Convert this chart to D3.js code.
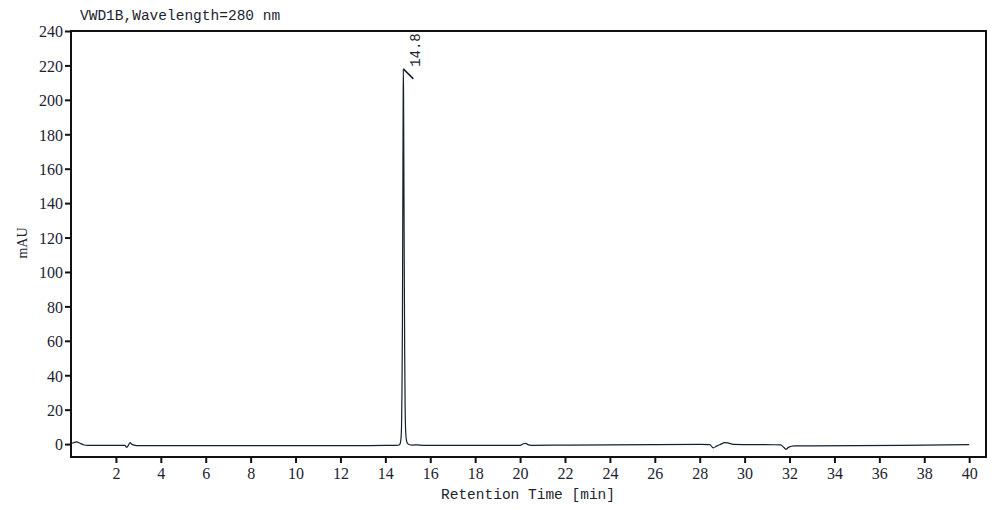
<!DOCTYPE html>
<html>
<head>
<meta charset="utf-8">
<script src="https://cdn.jsdelivr.net/npm/d3@7"></script>
<style>
  body { margin: 0; background: #fff; }
</style>
</head>
<body>
<div id="chart"></div>
<script>
// Trace: retention time (min) and signal (mAU)
const traceTime = [
    0.00, 0.12, 0.25, 0.40, 0.55, 0.75, 1.50, 2.40, 2.48, 2.56, 2.63, 2.72, 2.85, 2.95,
    4.0, 6.0, 8.0, 10.0, 12.0, 14.0, 14.50, 14.60, 14.65, 14.68, 14.70, 14.72, 14.74,
    14.76, 14.78, 14.79, 14.80, 14.81, 14.82, 14.84, 14.86, 14.88, 14.90, 14.93, 14.97,
    15.05, 15.20, 15.40, 15.50, 16.0, 18.0, 20.0, 20.15, 20.25, 20.35, 20.5, 22.0, 24.0,
    26.0, 28.0, 28.45, 28.60, 28.75, 28.95, 29.10, 29.25, 29.50, 30.0, 31.60, 31.75,
    31.85, 31.95, 32.2, 33.0, 35.0, 37.0, 39.0, 40.0
];
const traceSignal = [
    0.3, 0.8, 1.3, 0.5, -0.4, -0.8, -0.8, -0.8, -1.9, -0.6, 0.9, -0.2, -0.7, -0.9,
    -0.9, -0.9, -0.9, -0.9, -0.9, -0.8, -0.7, -0.5, 0.0, 1.5, 4, 10, 30,
    70, 150, 190, 218, 205, 175, 110, 55, 22, 9, 3, 0.8,
    -0.2, -0.6, -0.4, -0.6, -0.8, -0.8, -0.7, 0.2, 0.4, -0.3, -0.7, -0.6, -0.5,
    -0.3, -0.2, -0.3, -2.2, -1.2, 0.0, 0.9, 0.7, -0.2, -0.3, -0.4, -2.0,
    -3.0, -1.9, -1.0, -1.0, -0.9, -0.7, -0.4, -0.3
];

// Labelled peak
const peakTime = 14.8;
const peakHeight = 218;
const peakLabel = "14.8";

// Axis ticks
const xTicks = d3.range(2, 41, 2);
const yTicks = d3.range(0, 241, 20);

const title = "VWD1B,Wavelength=280 nm";
const xLabel = "Retention Time [min]";
const yLabel = "mAU";

// Dimensions
const W = 998, H = 509;
const margin = { top: 31, right: 12, bottom: 52, left: 71 };
const width = W - margin.left - margin.right;
const height = H - margin.top - margin.bottom;

const svg = d3.select("#chart")
    .append("svg")
    .attr("width", W)
    .attr("height", H);

const g = svg.append("g")
    .attr("transform", `translate(${margin.left},${margin.top})`);

// Scales
const xScale = d3.scaleLinear()
    .domain([0, 40.75])
    .range([0, width]);

const yScale = d3.scaleLinear()
    .domain([-7.5, 240])
    .range([height, 0]);

const textColor = "#1c2330";

// Bottom axis
const xAxis = g.append("g")
    .attr("transform", `translate(0,${height})`)
    .call(d3.axisBottom(xScale).tickValues(xTicks).tickSize(6).tickPadding(5));

// Left axis
const yAxis = g.append("g")
    .call(d3.axisLeft(yScale).tickValues(yTicks).tickSize(6).tickPadding(2));

[xAxis, yAxis].forEach(ax => {
    ax.select(".domain").remove();
    ax.selectAll(".tick line").attr("stroke", "#111").attr("stroke-width", 2);
    ax.selectAll(".tick text")
        .attr("fill", textColor)
        .style("font-family", "'Liberation Serif', 'DejaVu Serif', serif")
        .style("font-size", "16px");
});
yAxis.selectAll(".tick text").attr("dy", "0.36em");

// Trace
const points = traceTime.map((t, i) => [t, traceSignal[i]]);
const line = d3.line()
    .x(d => xScale(d[0]))
    .y(d => yScale(d[1]))
    .curve(d3.curveMonotoneX);

g.append("path")
    .datum(points)
    .attr("fill", "none")
    .attr("stroke", "#14202e")
    .attr("stroke-width", 1.2)
    .attr("d", line);

// Peak marker and label
const px = xScale(peakTime), py = yScale(peakHeight);
g.append("line")
    .attr("x1", px)
    .attr("y1", py)
    .attr("x2", px + 10)
    .attr("y2", py + 10)
    .attr("stroke", "#14202e")
    .attr("stroke-width", 1.5);

g.append("text")
    .attr("transform", `translate(${px + 17},${py - 2}) rotate(-90)`)
    .attr("fill", textColor)
    .style("font-family", "'Liberation Mono', 'DejaVu Sans Mono', monospace")
    .style("font-size", "14px")
    .text(peakLabel);

// Frame
g.append("rect")
    .attr("x", 0)
    .attr("y", 0)
    .attr("width", width)
    .attr("height", height)
    .attr("fill", "none")
    .attr("stroke", "#111")
    .attr("stroke-width", 2);

// Title
svg.append("text")
    .attr("x", 80)
    .attr("y", 20)
    .attr("fill", textColor)
    .style("font-family", "'Liberation Mono', 'DejaVu Sans Mono', monospace")
    .style("font-size", "14.5px")
    .text(title);

// X-axis label
svg.append("text")
    .attr("x", 528)
    .attr("y", 499)
    .attr("text-anchor", "middle")
    .attr("fill", textColor)
    .style("font-family", "'Liberation Mono', 'DejaVu Sans Mono', monospace")
    .style("font-size", "14.5px")
    .text(xLabel);

// Y-axis label
svg.append("text")
    .attr("transform", "rotate(-90)")
    .attr("x", -243)
    .attr("y", 27)
    .attr("text-anchor", "middle")
    .attr("fill", textColor)
    .style("font-family", "'Liberation Serif', 'DejaVu Serif', serif")
    .style("font-size", "14px")
    .text(yLabel);
</script>
</body>
</html>
